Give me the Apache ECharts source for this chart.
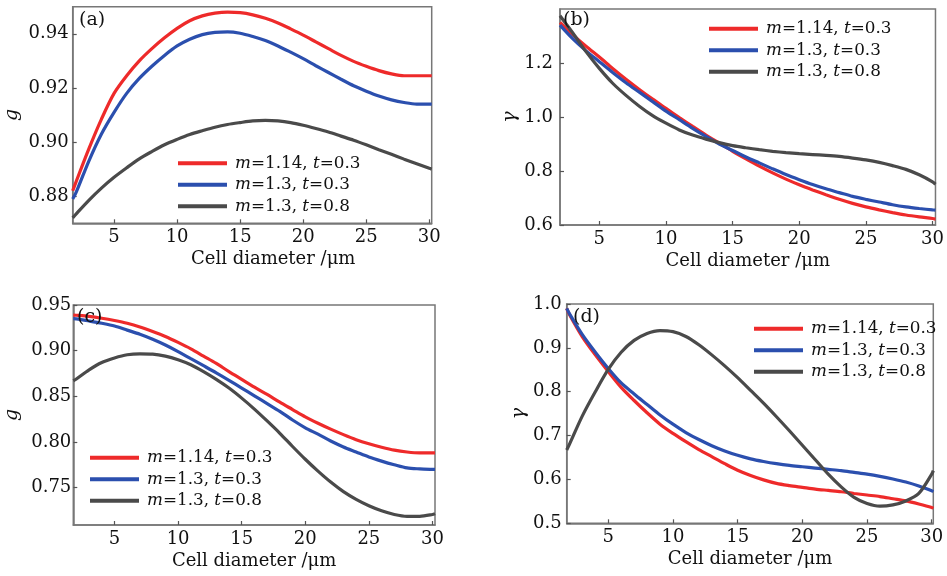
<!DOCTYPE html>
<html>
<head>
<meta charset="utf-8">
<script src="https://cdn.jsdelivr.net/npm/echarts@6/dist/echarts.min.js"></script>
<style>
html,body{margin:0;padding:0;background:#fff;}
#main{width:947px;height:576px;}
</style>
</head>
<body>
<div id="main"></div>
<script>
// ---- data ----
var seriesNames = ['m=1.14, t=0.3', 'm=1.3, t=0.3', 'm=1.3, t=0.8'];
var xTicks = [5, 10, 15, 20, 25, 30];

// panel (a): g
var xA = [1.72, 2, 3, 4, 5, 6, 7, 8, 9, 10, 11, 12, 13, 14, 15, 16, 17, 18, 19, 20, 21, 22, 23, 24, 25, 26, 27, 28, 29, 30, 30.19];
var redA = [0.8820, 0.8855, 0.8975, 0.9085, 0.9180, 0.9245, 0.9300, 0.9345, 0.9385, 0.9420, 0.9448, 0.9466, 0.9476, 0.9480, 0.9478, 0.9470, 0.9457, 0.9440, 0.9418, 0.9395, 0.9370, 0.9345, 0.9320, 0.9298, 0.9280, 0.9264, 0.9252, 0.9245, 0.9245, 0.9245, 0.9245];
var blueA = [0.8790, 0.8815, 0.8930, 0.9030, 0.9110, 0.9180, 0.9235, 0.9280, 0.9320, 0.9355, 0.9380, 0.9397, 0.9405, 0.9407, 0.9402, 0.9390, 0.9375, 0.9355, 0.9332, 0.9308, 0.9282, 0.9257, 0.9232, 0.9208, 0.9188, 0.9170, 0.9156, 0.9146, 0.9140, 0.9140, 0.9140];
var grayA = [0.8720, 0.8735, 0.8785, 0.8830, 0.8870, 0.8905, 0.8938, 0.8965, 0.8990, 0.9010, 0.9028, 0.9042, 0.9055, 0.9065, 0.9072, 0.9078, 0.9080, 0.9078, 0.9072, 0.9062, 0.9050, 0.9037, 0.9022, 0.9007, 0.8990, 0.8972, 0.8955, 0.8937, 0.8920, 0.8903, 0.8900];
var yTicksA = [0.88, 0.90, 0.92, 0.94];

// panel (b): gamma
var xB = [2.05, 3, 4, 5, 6, 7, 8, 9, 10, 11, 12, 13, 14, 15, 16, 17, 18, 19, 20, 21, 22, 23, 24, 25, 26, 27, 28, 29, 30, 30.22];
var redB = [1.350, 1.305, 1.262, 1.222, 1.180, 1.140, 1.102, 1.066, 1.032, 0.998, 0.965, 0.933, 0.903, 0.873, 0.845, 0.818, 0.793, 0.770, 0.749, 0.730, 0.712, 0.695, 0.680, 0.667, 0.656, 0.646, 0.637, 0.630, 0.624, 0.622];
var blueB = [1.340, 1.290, 1.245, 1.205, 1.165, 1.127, 1.092, 1.057, 1.022, 0.990, 0.958, 0.928, 0.900, 0.876, 0.852, 0.830, 0.808, 0.787, 0.768, 0.750, 0.734, 0.720, 0.706, 0.695, 0.685, 0.675, 0.667, 0.661, 0.656, 0.655];
var grayB = [1.375, 1.312, 1.242, 1.180, 1.125, 1.080, 1.040, 1.005, 0.977, 0.952, 0.933, 0.918, 0.905, 0.894, 0.886, 0.879, 0.873, 0.868, 0.864, 0.861, 0.858, 0.854, 0.848, 0.841, 0.832, 0.820, 0.806, 0.786, 0.760, 0.751];
var yTicksB = [0.6, 0.8, 1.0, 1.2];

// panel (c): g
var xC = [1.76, 2, 3, 4, 5, 6, 7, 8, 9, 10, 11, 12, 13, 14, 15, 16, 17, 18, 19, 20, 21, 22, 23, 24, 25, 26, 27, 28, 29, 30, 30.2];
var redC = [0.9390, 0.9388, 0.9375, 0.9355, 0.9330, 0.9300, 0.9260, 0.9210, 0.9155, 0.9090, 0.9020, 0.8940, 0.8860, 0.8770, 0.8685, 0.8600, 0.8520, 0.8435, 0.8355, 0.8275, 0.8205, 0.8140, 0.8080, 0.8025, 0.7980, 0.7942, 0.7910, 0.7890, 0.7880, 0.7880, 0.7880];
var blueC = [0.9350, 0.9348, 0.9325, 0.9300, 0.9270, 0.9225, 0.9180, 0.9125, 0.9062, 0.8990, 0.8912, 0.8835, 0.8757, 0.8675, 0.8590, 0.8505, 0.8420, 0.8335, 0.8240, 0.8155, 0.8085, 0.8010, 0.7945, 0.7890, 0.7835, 0.7790, 0.7750, 0.7715, 0.7705, 0.7700, 0.7700];
var grayC = [0.8670, 0.8690, 0.8790, 0.8870, 0.8920, 0.8955, 0.8965, 0.8962, 0.8940, 0.8900, 0.8845, 0.8770, 0.8685, 0.8590, 0.8480, 0.8360, 0.8230, 0.8095, 0.7950, 0.7810, 0.7680, 0.7560, 0.7455, 0.7370, 0.7300, 0.7245, 0.7205, 0.7185, 0.7185, 0.7205, 0.7215];
var yTicksC = [0.75, 0.80, 0.85, 0.90, 0.95];

// panel (d): gamma
var xD = [1.79, 2, 3, 4, 5, 6, 7, 8, 9, 10, 11, 12, 13, 14, 15, 16, 17, 18, 19, 20, 21, 22, 23, 24, 25, 26, 27, 28, 29, 30, 30.12];
var redD = [0.990, 0.976, 0.925, 0.884, 0.846, 0.810, 0.780, 0.752, 0.726, 0.705, 0.686, 0.668, 0.652, 0.636, 0.621, 0.609, 0.599, 0.591, 0.586, 0.582, 0.578, 0.575, 0.572, 0.568, 0.5645, 0.561, 0.556, 0.551, 0.544, 0.536, 0.534];
var blueD = [0.990, 0.978, 0.930, 0.890, 0.853, 0.820, 0.795, 0.771, 0.747, 0.726, 0.707, 0.691, 0.677, 0.665, 0.655, 0.647, 0.641, 0.636, 0.632, 0.629, 0.626, 0.623, 0.620, 0.616, 0.612, 0.607, 0.601, 0.594, 0.585, 0.574, 0.572];
var grayD = [0.667, 0.680, 0.745, 0.800, 0.851, 0.890, 0.917, 0.933, 0.9395, 0.937, 0.926, 0.907, 0.884, 0.859, 0.832, 0.803, 0.774, 0.743, 0.711, 0.678, 0.645, 0.612, 0.583, 0.559, 0.545, 0.539, 0.542, 0.551, 0.568, 0.612, 0.620];
var yTicksD = [0.5, 0.6, 0.7, 0.8, 0.9, 1.0];

// ---- chart ----
var FONT = 'DejaVu Serif';
var colors = ['#ee2a2a', '#2b4fae', '#4a4a4a'];
var chart = echarts.init(document.getElementById('main'), null, {renderer: 'canvas'});

function pairs(xs, ys) { return xs.map(function (x, i) { return [x, ys[i]]; }); }

var panels = [
  {grid: {left: 72.7, top: 6.7, width: 359, height: 216.6}, x: xA, ys: [redA, blueA, grayA], xmin: 1.72, xmax: 30.19, ymin: 0.87, ymax: 0.95, yt: yTicksA, dec: 2, yname: 'g', ygap: 51, ymargin: 4, label: '(a)', lab: [79, 11], leg: [178, 153], xpad: 42},
  {grid: {left: 560, top: 9, width: 378.7, height: 216}, x: xB, ys: [redB, blueB, grayB], xmin: 2.05, xmax: 30.22, ymin: 0.6, ymax: 1.4, yt: yTicksB, dec: 1, yname: 'γ', ygap: 40, ymargin: 7, label: '(b)', lab: [563, 11], leg: [709, 18.5], xpad: 0},
  {grid: {left: 73.3, top: 305, width: 361.7, height: 220}, x: xC, ys: [redC, blueC, grayC], xmin: 1.76, xmax: 30.2, ymin: 0.709, ymax: 0.95, yt: yTicksC, dec: 2, yname: 'g', ygap: 52, ymargin: 2, label: '(c)', lab: [77, 308], leg: [90, 447.5], xpad: 0},
  {grid: {left: 566.7, top: 304, width: 366.6, height: 219.3}, x: xD, ys: [redD, blueD, grayD], xmin: 1.79, xmax: 30.12, ymin: 0.5, ymax: 1.0, yt: yTicksD, dec: 1, yname: 'γ', ygap: 38, ymargin: 5, label: '(d)', lab: [573, 308], leg: [754, 318.5], xpad: 0}
];

var option = {
  animation: false,
  backgroundColor: '#ffffff',
  textStyle: {fontFamily: FONT},
  grid: [], xAxis: [], yAxis: [], series: [], legend: [], title: []
};

var rich = {
  i: {fontFamily: FONT, fontStyle: 'italic', fontSize: 16.8, color: '#111'},
  n: {fontFamily: FONT, fontSize: 16.8, color: '#111'}
};
function legendFmt(name) {
  var p = name.split(', ');
  var a = p[0].split('='), b = p[1].split('=');
  return '{i|' + a[0] + '}{n|=' + a[1] + ', }{i|' + b[0] + '}{n|=' + b[1] + '}';
}

panels.forEach(function (p, k) {
  option.grid.push(Object.assign({show: true, borderColor: '#777', borderWidth: 1.5, backgroundColor: 'transparent'}, p.grid));
  option.xAxis.push({
    type: 'value', gridIndex: k, min: p.xmin, max: p.xmax,
    name: 'Cell diameter /μm', nameLocation: 'middle', nameGap: 27,
    nameTextStyle: {fontFamily: FONT, fontSize: 18, color: '#111', padding: [0, 0, 0, p.xpad]},
    axisLine: {show: true, lineStyle: {color: '#777', width: 1.5}},
    axisTick: {show: true, inside: true, length: 4, customValues: xTicks, lineStyle: {color: '#555', width: 1.2}},
    axisLabel: {customValues: xTicks, fontFamily: FONT, fontSize: 18, color: '#111', margin: 5},
    splitLine: {show: false}
  });
  option.yAxis.push({
    type: 'value', gridIndex: k, min: p.ymin, max: p.ymax,
    name: p.yname, nameLocation: 'middle', nameGap: p.ygap,
    nameTextStyle: {fontFamily: FONT, fontSize: 19, fontStyle: 'italic', color: '#111'},
    axisLine: {show: true, lineStyle: {color: '#777', width: 1.5}},
    axisTick: {show: true, inside: true, length: 4, customValues: p.yt, lineStyle: {color: '#555', width: 1.2}},
    axisLabel: {customValues: p.yt, fontFamily: FONT, fontSize: 18, color: '#111', margin: p.ymargin,
      formatter: (function (d) { return function (v) { return (+v).toFixed(d); }; })(p.dec)},
    splitLine: {show: false}
  });
  p.ys.forEach(function (ys, j) {
    option.series.push({
      type: 'line', name: seriesNames[j], xAxisIndex: k, yAxisIndex: k,
      data: pairs(p.x, ys), smooth: 0.3, symbol: 'none', showSymbol: false,
      lineStyle: {color: colors[j], width: 3.2}, itemStyle: {color: colors[j]}, z: 3
    });
  });
  option.legend.push({
    data: seriesNames, orient: 'vertical', left: p.leg[0], top: p.leg[1], padding: 0,
    itemWidth: 49, itemHeight: 4, itemGap: 1, icon: 'rect', selectedMode: false,
    formatter: legendFmt,
    textStyle: {fontFamily: FONT, fontSize: 16.8, lineHeight: 20.5, color: '#111', rich: rich, padding: [0, 0, 0, 3]}
  });
  option.title.push({
    text: p.label, left: p.lab[0], top: p.lab[1], padding: 0,
    textStyle: {fontFamily: FONT, fontSize: 19, fontWeight: 'normal', color: '#111'}
  });
});

chart.setOption(option);
</script>
</body>
</html>
